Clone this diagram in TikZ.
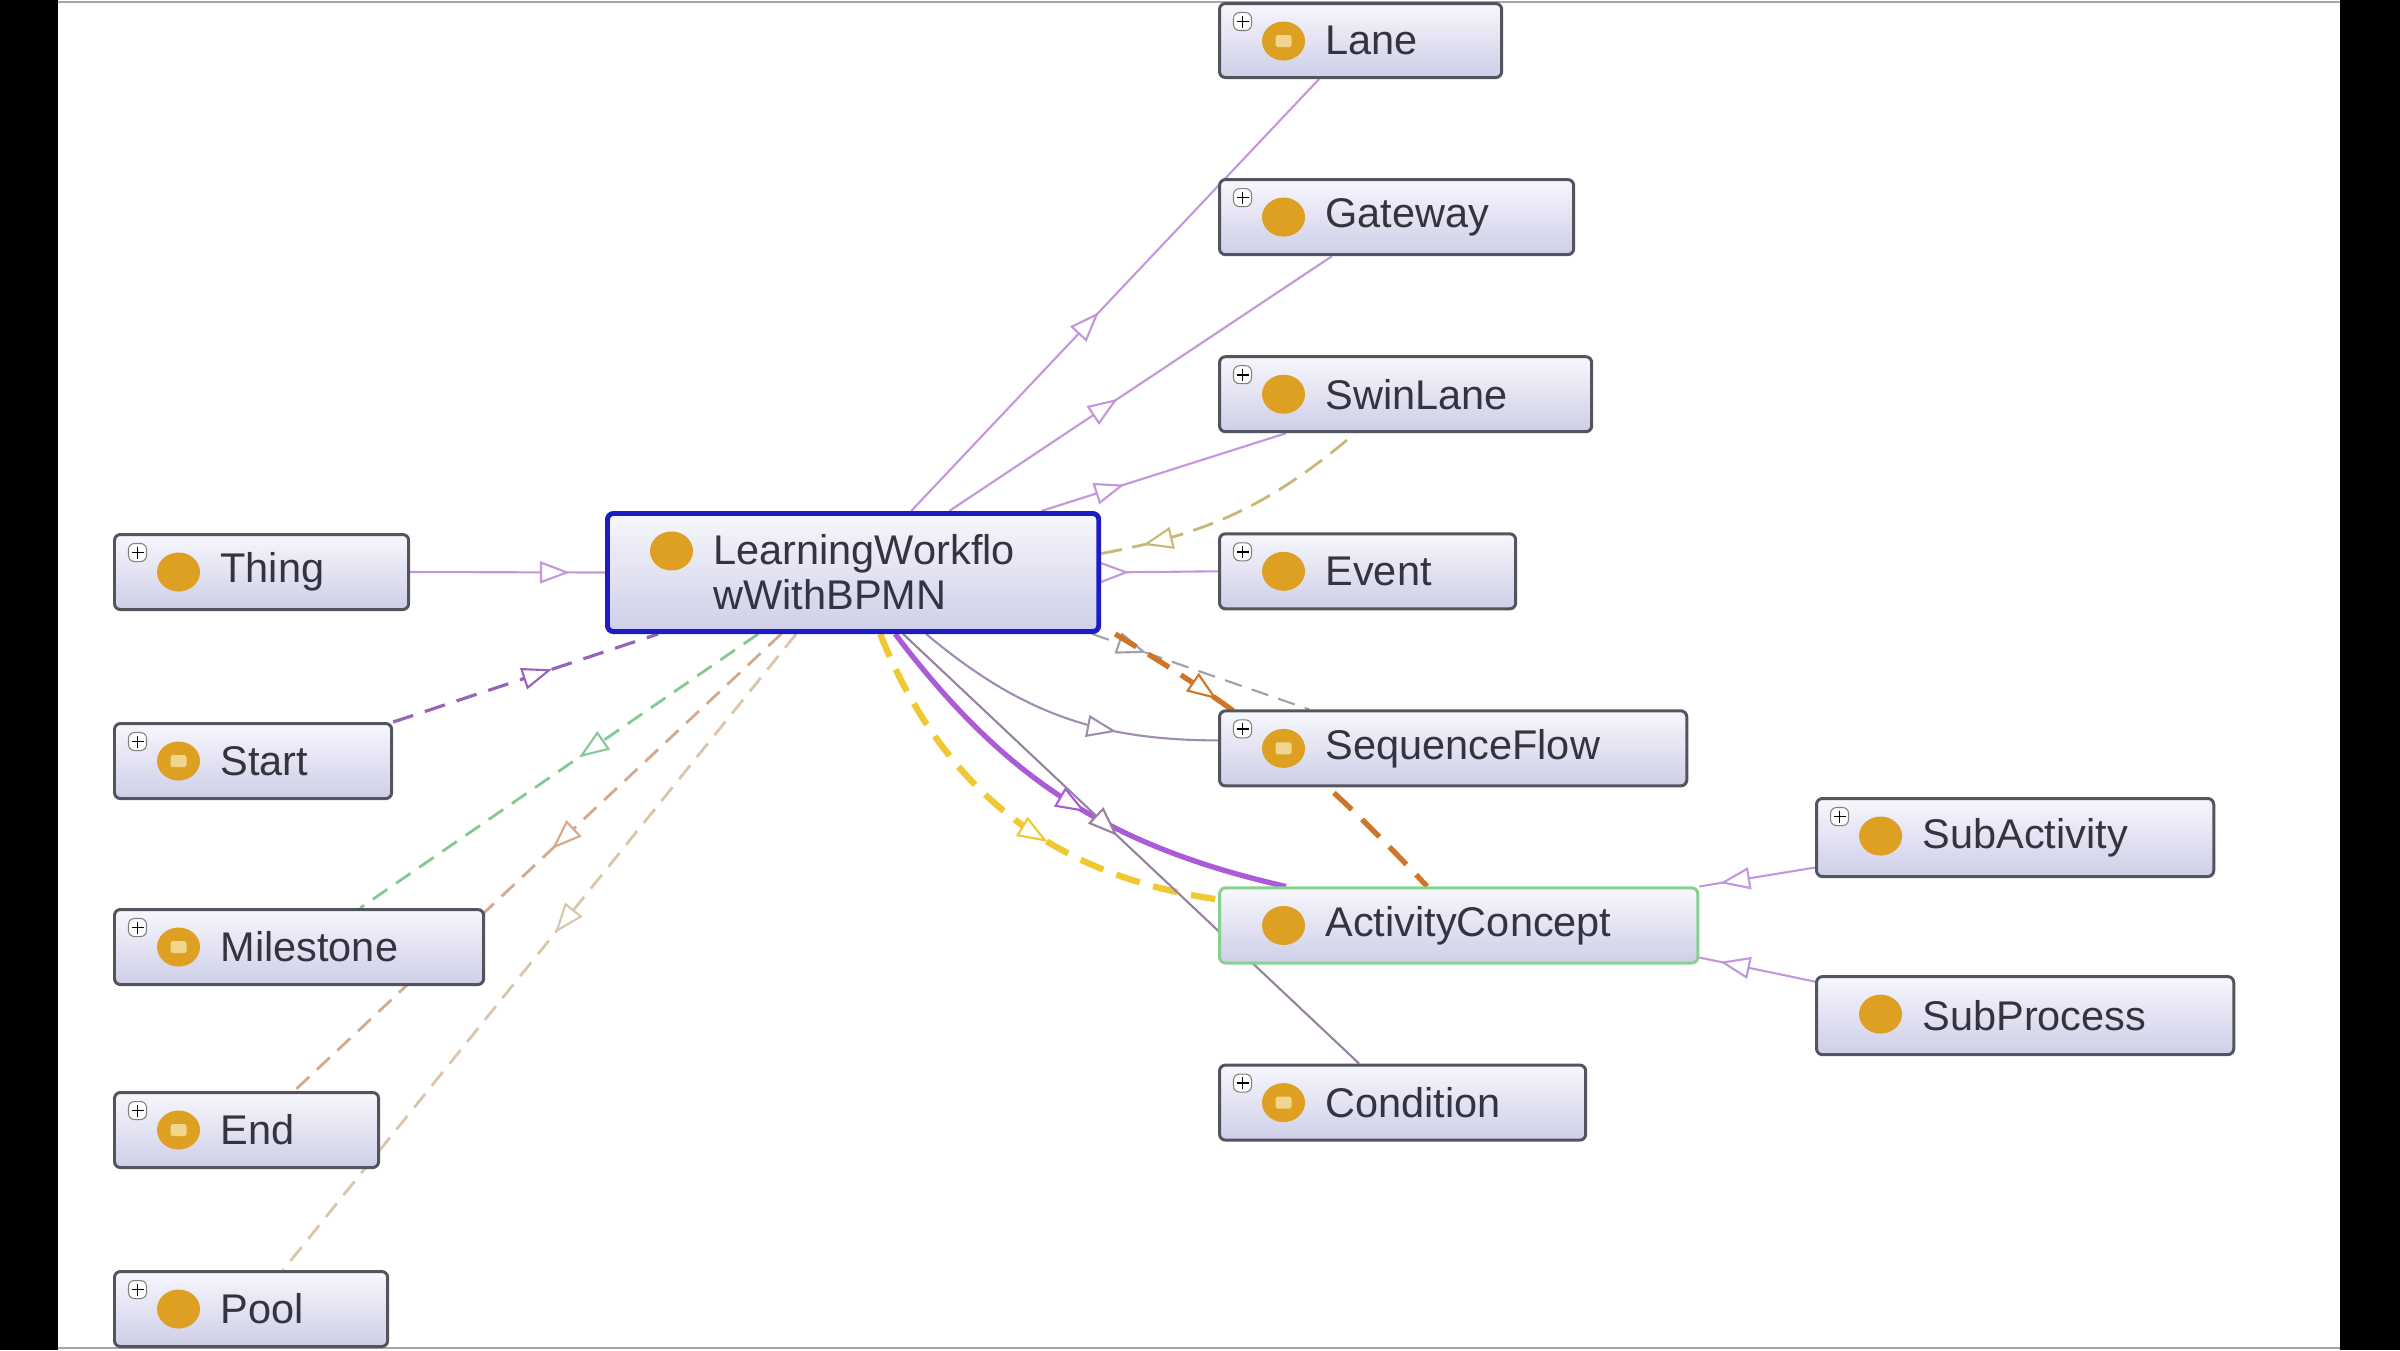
\documentclass[tikz,border=0pt]{standalone}
\usepackage{fontspec}
\setmainfont{Liberation Sans}
\usetikzlibrary{arrows.meta, positioning, decorations.markings, backgrounds}

\definecolor{boxedge}{RGB}{84,84,94}
\definecolor{boxtop}{RGB}{247,247,253}
\definecolor{boxbot}{RGB}{206,206,232}
\definecolor{dotorange}{RGB}{222,160,34}
\definecolor{eqvpale}{RGB}{240,214,140}
\definecolor{txtgray}{RGB}{52,52,64}
\definecolor{mainblue}{RGB}{28,28,196}
\definecolor{actgreen}{RGB}{136,208,144}
\definecolor{isapurple}{RGB}{196,150,218}
\definecolor{startpurple}{RGB}{150,100,185}
\definecolor{milegreen}{RGB}{132,200,150}
\definecolor{endtan}{RGB}{212,170,140}
\definecolor{pooltan}{RGB}{218,198,170}
\definecolor{swinolive}{RGB}{200,184,120}
\definecolor{seqgray}{RGB}{160,140,176}
\definecolor{orangeflow}{RGB}{208,116,40}
\definecolor{dashgray}{RGB}{160,160,170}
\definecolor{strongviolet}{RGB}{170,92,216}
\definecolor{goldflow}{RGB}{240,200,48}
\definecolor{condgray}{RGB}{150,130,160}

\newcommand{\icondot}{%
  \fill[dotorange] ([shift={(0.64cm,-0.375cm)}]path picture bounding box.north west)
    ellipse [x radius=0.215cm, y radius=0.195cm];}
\newcommand{\iconeqv}{%
  \fill[eqvpale, rounded corners=0.5pt] ([shift={(0.56cm,-0.315cm)}]path picture bounding box.north west)
    rectangle ++(0.16cm,-0.12cm);}
\newcommand{\iconplus}{%
  \draw[gray, fill=white, line width=0.3pt] ([shift={(0.14cm,-0.09cm)}]path picture bounding box.north west)
    rectangle ++(0.18cm,-0.18cm);
  \draw[black, line width=0.5pt] ([shift={(0.23cm,-0.12cm)}]path picture bounding box.north west) -- ++(0cm,-0.12cm)
    ([shift={(0.17cm,-0.18cm)}]path picture bounding box.north west) -- ++(0.12cm,0cm);}

\begin{document}
\begin{tikzpicture}[x=0.01cm, y=-0.01cm,
    cls/.style={draw=boxedge, line width=0.85pt, rounded corners=1.7pt,
      top color=boxtop, bottom color=boxbot, anchor=north west,
      minimum height=0.75cm, text width=#1, inner xsep=0pt, align=left,
      font={\fontsize{11.8}{12.8}\selectfont}, text=txtgray,
      execute at begin node={\leftskip=1.06cm\relax}},
    sub/.style={cls=#1, path picture={\iconplus\icondot}},
    defd/.style={cls=#1, path picture={\iconplus\icondot\iconeqv}},
    leaf/.style={cls=#1, path picture={\icondot}},
    isa/.style={postaction={decorate, decoration={markings,
      mark=at position #1 with {\arrow{Triangle[length=0.3cm, width=0.22cm, fill=white, line width=0.6pt]}}}}},
    isr/.style={postaction={decorate, decoration={markings,
      mark=at position #1 with {\arrowreversed{Triangle[length=0.3cm, width=0.22cm, fill=white, line width=0.6pt]}}}}},
    isaline/.style={draw=isapurple, line width=0.6pt},
    startline/.style={draw=startpurple, line width=0.9pt, dash pattern=on 6pt off 3.5pt},
    mileline/.style={draw=milegreen, line width=0.8pt, dash pattern=on 5pt off 3pt},
    endline/.style={draw=endtan, line width=0.8pt, dash pattern=on 5pt off 3pt},
    poolline/.style={draw=pooltan, line width=0.8pt, dash pattern=on 5pt off 3pt},
    swinline/.style={draw=swinolive, line width=0.8pt, dash pattern=on 6pt off 3pt},
    seqline/.style={draw=seqgray, line width=0.6pt},
    grayline/.style={draw=dashgray, line width=0.6pt, dash pattern=on 5pt off 3pt},
    orangeline/.style={draw=orangeflow, line width=1.5pt, dash pattern=on 7pt off 4pt},
    violetline/.style={draw=strongviolet, line width=1.5pt},
    goldline/.style={draw=goldflow, line width=1.8pt, dash pattern=on 7pt off 4pt},
    condline/.style={draw=condgray, line width=0.6pt}]

\useasboundingbox (0,0) rectangle (2400,1350);

% Frame
\fill[black] (0,0) rectangle (58,1350);
\fill[black] (2340,0) rectangle (2400,1350);
\draw[gray!70, line width=0.6pt] (58,2) -- (2340,2);
\draw[gray!70, line width=0.6pt] (58,1348) -- (2340,1348);

% Nodes
\node (main) [leaf=4.91cm, draw=mainblue, line width=1.4pt, minimum height=1.18cm] at (605,511) {LearningWorkflo\\wWithBPMN};

\node (thing) [sub=2.94cm] at (113,533) {Thing};
\node (start) [defd=2.77cm] at (113,722) {Start};
\node (milestone) [defd=3.69cm] at (113,908) {Milestone};
\node (end) [defd=2.64cm] at (113,1091) {End};
\node (pool) [sub=2.73cm] at (113,1270) {Pool};

\node (lane) [defd=2.82cm, minimum height=0.74cm] at (1218,2) {Lane};
\node (gateway) [sub=3.54cm, below right=0.99cm and 0cm of lane.south west] {Gateway};
\node (swinlane) [sub=3.72cm, below right=0.99cm and 0cm of gateway.south west] {SwinLane};
\node (event) [sub=2.96cm, below right=0.99cm and 0cm of swinlane.south west] {Event};
\node (seqflow) [defd=4.67cm, below right=0.99cm and 0cm of event.south west] {SequenceFlow};
\node (activity) [leaf=4.78cm, draw=actgreen, below right=0.99cm and 0cm of seqflow.south west] {ActivityConcept};
\node (condition) [defd=3.66cm, below right=0.99cm and 0cm of activity.south west] {Condition};

\node (subact) [sub=3.97cm, minimum height=0.78cm] at (1815,797) {SubActivity};
\node (subproc) [leaf=4.17cm, minimum height=0.78cm, below right=0.97cm and 0cm of subact.south west] {SubProcess};

% Edges
\begin{scope}[on background layer]
\draw[isaline, isa=0.82] (thing.east) -- (main.west);
\draw[startline, isa=0.6] (start.north east) -- ([xshift=0.53cm]main.south west);
\draw[mileline, isa=0.45] ([xshift=1.53cm]main.south west) -- ([xshift=2.47cm]milestone.north west);
\draw[endline, isa=0.47] ([xshift=1.76cm]main.south west) -- ([xshift=1.81cm]end.north west);
\draw[poolline, isa=0.47] ([xshift=1.91cm]main.south west) -- ([xshift=1.70cm]pool.north west);

\draw[isaline, isa=0.46] ([xshift=3.06cm]main.north west) -- ([xshift=1.01cm]lane.south west);
\draw[isaline, isa=0.44] ([xshift=3.44cm]main.north west) -- ([xshift=1.14cm]gateway.south west);
\draw[isaline, isa=0.34] ([xshift=4.36cm]main.north west) -- ([xshift=0.68cm]swinlane.south west);
\draw[swinline, isr=0.15] ([yshift=0.19cm]main.east) to[bend right=15] ([xshift=1.37cm]swinlane.south west);
\draw[isaline, isa=0.24] (main.east) -- (event.west);

\draw[seqline, isa=0.68] ([xshift=3.21cm]main.south west) to[bend right=20] ([yshift=0.08cm]seqflow.west);
\draw[grayline, isa=0.25] ([xshift=-0.09cm]main.south east) -- ([xshift=0.91cm]seqflow.north west);
\draw[orangeline, isa=0.3] ([xshift=0.14cm]main.south east) to[bend left=8] ([xshift=2.09cm]activity.north west);
\draw[goldline, isa=0.6] ([xshift=2.75cm]main.south west) to[bend right=30] ([yshift=0.26cm]activity.west);
\draw[violetline, isa=0.55] ([xshift=2.90cm]main.south west) to[bend right=20] ([xshift=0.68cm]activity.north west);
\draw[condline, isa=0.47] ([xshift=2.98cm]main.south west) -- ([xshift=1.41cm]condition.north west);

\draw[isaline, isa=0.82] ([yshift=-0.3cm]subact.west) -- (activity.north east);
\draw[isaline, isa=0.82] ([yshift=0.34cm]subproc.west) -- ([yshift=0.07cm]activity.south east);
\end{scope}

\end{tikzpicture}
\end{document}
